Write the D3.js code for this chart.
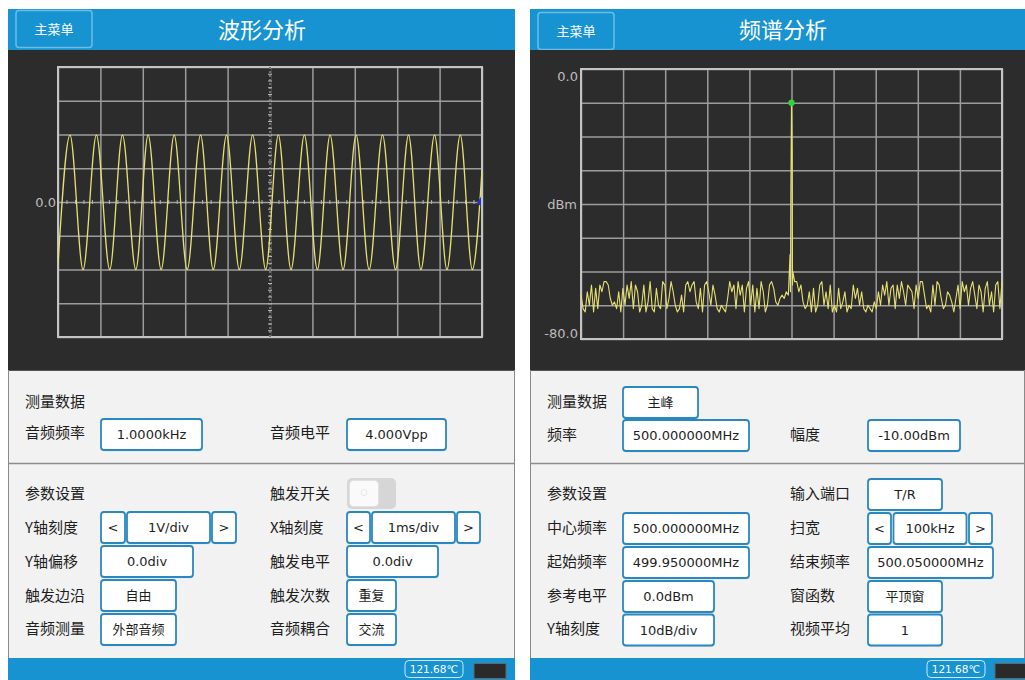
<!DOCTYPE html>
<html>
<head>
<meta charset="utf-8">
<script src="https://cdn.jsdelivr.net/npm/d3@7"></script>
<style>
  html, body { margin: 0; padding: 0; background: #ffffff; }
  svg { display: block; }
</style>
</head>
<body>
<svg id="screen" width="1025" height="680"></svg>
<script>
// ---------- data ----------
const panelTitles = ["波形分析", "频谱分析"];
const menuLabel = "主菜单";
const tempLabel = "121.68℃";

// oscilloscope trace (time in ms at 1 ms/div, level in V at 1 V/div)
const waveTimeDomain = [0, 10];
const waveVoltDomain = [-4, 4];
const waveAxisLabel = "0.0";
const wavePeakTimes   = [0.283, 0.906, 1.520, 2.126, 2.740, 3.362, 3.976, 4.591, 5.197, 5.811, 6.417, 7.031, 7.654, 8.268, 8.882, 9.488];
const waveTroughTimes = [0.591, 1.220, 1.835, 2.433, 3.047, 3.661, 4.276, 4.898, 5.496, 6.118, 6.724, 7.339, 7.961, 8.559, 9.173, 9.772];
const wavePeakLevel = 1.98;
const waveTroughLevel = -2.0;
const waveEdgeTimes = [0, 10];
const waveEdgeLevels = [-1.86, 0.95];

// spectrum trace (frequency in MHz, level in dBm)
const specFreqDomain = [499.95, 500.05];
const specDbmDomain = [-80, 0];
const specAxisLabels = ["0.0", "dBm", "-80.0"];
// noise floor, 201 bins across the span
const specLevels = [
  -67, -71, -72, -66, -70, -64, -72, -65, -71, -64,
  -66, -63, -63, -64, -68, -70, -69, -71, -66, -72,
  -65, -70, -64, -68, -63, -71, -64, -66, -72, -70,
  -64, -72, -69, -63, -71, -72, -65, -70, -71, -63,
  -64, -71, -68, -63, -66, -70, -72, -71, -67, -72,
  -64, -63, -66, -64, -63, -69, -71, -65, -72, -64,
  -63, -66, -70, -64, -67, -71, -72, -70, -71, -72,
  -68, -63, -66, -64, -71, -63, -67, -64, -72, -65,
  -63, -70, -64, -72, -65, -71, -63, -66, -72, -70,
  -64, -63, -65, -69, -70, -68, -67, -68, -66, -67,
  -66,
  -64, -63, -63, -66, -64, -69, -71, -70, -66, -72,
  -65, -72, -70, -64, -63, -70, -66, -71, -64, -72,
  -70, -72, -65, -71, -69, -66, -72, -70, -71, -64,
  -68, -65, -70, -66, -71, -72, -70, -71, -72, -69,
  -71, -66, -70, -64, -67, -63, -70, -65, -64, -71,
  -64, -68, -63, -66, -70, -64, -65, -66, -71, -64,
  -68, -63, -63, -67, -71, -70, -72, -64, -70, -63,
  -64, -68, -71, -70, -66, -67, -69, -72, -68, -64,
  -71, -63, -66, -64, -70, -65, -63, -67, -71, -64,
  -66, -72, -65, -63, -70, -66, -72, -64, -63, -71,
  -63
];
// carrier samples around the centre bin
const specCarrierFreqs  = [499.99965, 499.99983, 500.0, 500.00016, 500.00032];
const specCarrierLevels = [-55, -39, -10, -25, -60];
const specPeakFreq = 500.0;
const specPeakDbm = -10;

// form texts
const sectionLabels = ["测量数据", "参数设置"];
const waveMeasure = [["音频频率", "1.0000kHz"], ["音频电平", "4.000Vpp"]];
const waveSettingsLeft = [["Y轴刻度", "1V/div"], ["Y轴偏移", "0.0div"], ["触发边沿", "自由"], ["音频测量", "外部音频"]];
const waveSettingsRight = [["触发开关", ""], ["X轴刻度", "1ms/div"], ["触发电平", "0.0div"], ["触发次数", "重复"], ["音频耦合", "交流"]];
const specMeasureMode = "主峰";
const specMeasure = [["频率", "500.000000MHz"], ["幅度", "-10.00dBm"]];
const specSettingsLeft = [["中心频率", "500.000000MHz"], ["起始频率", "499.950000MHz"], ["参考电平", "0.0dBm"], ["Y轴刻度", "10dB/div"]];
const specSettingsRight = [["输入端口", "T/R"], ["扫宽", "100kHz"], ["结束频率", "500.050000MHz"], ["窗函数", "平顶窗"], ["视频平均", "1"]];
const stepArrows = ["<", ">"];

// ---------- styles ----------
const BLUE = "#1793d1";
const DARK = "#2c2c2c";
const LIGHT = "#f2f2f2";
const BOX = "#2a88c0";
const TRACE = "#e6df72";
const GRID = "#9c9c9c";
const CJK = "'Noto Sans CJK SC', sans-serif";
const LAT = "'DejaVu Sans', 'Noto Sans CJK SC', sans-serif";

const svg = d3.select("#screen");

// ---------- panel frame ----------
function frame(x0, x1, title, titleX, btnX, btnY) {
  const g = svg.append("g");
  g.append("rect").attr("x", x0).attr("y", 9).attr("width", x1 - x0).attr("height", 41).attr("fill", BLUE);
  g.append("rect").attr("x", btnX).attr("y", btnY).attr("width", 76).attr("height", 37).attr("rx", 3)
    .attr("fill", BLUE).attr("stroke", "#6cbde6").attr("stroke-width", 1.5);
  g.append("text").attr("x", btnX + 38).attr("y", btnY + 18.5).attr("dy", "0.36em").attr("text-anchor", "middle")
    .attr("font-family", CJK).attr("font-size", 13).attr("fill", "#ffffff").text(menuLabel);
  g.append("text").attr("x", titleX).attr("y", 30).attr("dy", "0.36em").attr("text-anchor", "middle")
    .attr("font-family", CJK).attr("font-size", 22).attr("fill", "#ffffff").text(title);
  g.append("rect").attr("x", x0).attr("y", 50).attr("width", x1 - x0).attr("height", 320).attr("fill", DARK);
  g.append("rect").attr("x", x0).attr("y", 370).attr("width", x1 - x0).attr("height", 288).attr("fill", LIGHT);
  g.append("line").attr("x1", x0).attr("x2", x1).attr("y1", 370.5).attr("y2", 370.5).attr("stroke", "#555").attr("stroke-width", 1);
  g.append("line").attr("x1", x0 + 0.5).attr("x2", x0 + 0.5).attr("y1", 370).attr("y2", 658).attr("stroke", "#8a8a8a");
  g.append("line").attr("x1", x1 - 0.5).attr("x2", x1 - 0.5).attr("y1", 370).attr("y2", 658).attr("stroke", "#8a8a8a");
  g.append("line").attr("x1", x0).attr("x2", x1).attr("y1", 463.5).attr("y2", 463.5).attr("stroke", "#8c8c8c").attr("stroke-width", 1.6);
  g.append("rect").attr("x", x0).attr("y", 658).attr("width", x1 - x0).attr("height", 22).attr("fill", BLUE);
  return g;
}

function statusBar(bx, kx) {
  svg.append("rect").attr("x", bx).attr("y", 660.5).attr("width", 58).attr("height", 17).attr("rx", 4)
    .attr("fill", "none").attr("stroke", "#cde7f5").attr("stroke-width", 1);
  svg.append("text").attr("x", bx + 29).attr("y", 669).attr("dy", "0.36em").attr("text-anchor", "middle")
    .attr("font-family", LAT).attr("font-size", 10.5).attr("fill", "#ffffff").text(tempLabel);
  svg.append("rect").attr("x", kx).attr("y", 663.5).attr("width", 32).attr("height", 15)
    .attr("fill", "#2a2a2a").attr("stroke", "#666").attr("stroke-width", 1);
}

// ---------- form helpers ----------
function label(x, y, text) {
  svg.append("text").attr("x", x).attr("y", y).attr("dy", "0.36em")
    .attr("font-family", CJK).attr("font-size", 15).attr("fill", "#1e1e1e").text(text);
}
function box(x, yc, w, text) {
  const h = 31;
  svg.append("rect").attr("x", x + 0.5).attr("y", yc - h / 2 + 1.5).attr("width", w).attr("height", h)
    .attr("rx", 3).attr("fill", "#d8d8d8").attr("opacity", 0.6);
  svg.append("rect").attr("x", x).attr("y", yc - h / 2).attr("width", w).attr("height", h)
    .attr("rx", 3).attr("fill", "#ffffff").attr("stroke", BOX).attr("stroke-width", 1.8);
  if (text !== "") {
    svg.append("text").attr("x", x + w / 2).attr("y", yc).attr("dy", "0.36em").attr("text-anchor", "middle")
      .attr("font-family", LAT).attr("font-size", 13).attr("fill", "#1e1e1e").text(text);
  }
}
function stepper(x, yc, arrowW, midW, gap, text) {
  box(x, yc, arrowW, stepArrows[0]);
  box(x + arrowW + gap, yc, midW, text);
  box(x + arrowW + gap + midW + gap, yc, arrowW, stepArrows[1]);
}
function toggle(x, yc) {
  svg.append("rect").attr("x", x).attr("y", yc - 15.5).attr("width", 49).attr("height", 31).attr("rx", 5).attr("fill", "#d6d6d6");
  svg.append("rect").attr("x", x + 2.5).attr("y", yc - 13).attr("width", 29).attr("height", 26).attr("rx", 4)
    .attr("fill", "#fafafa").attr("stroke", "#e2e2e2");
  svg.append("circle").attr("cx", x + 17).attr("cy", yc - 1).attr("r", 3).attr("fill", "none").attr("stroke", "#e8e8e8");
}

// ---------- grid helper ----------
function grid(g, xs, ys, xTicks, yTicks) {
  const [x0, x1] = xs.range();
  const [y1, y0] = ys.range();
  g.append("g").attr("transform", `translate(0,${y1})`)
    .call(d3.axisBottom(xs).tickValues(xTicks).tickSize(-(y1 - y0)).tickFormat(""))
    .call(a => a.select(".domain").remove())
    .call(a => a.selectAll("line").attr("stroke", GRID).attr("stroke-width", 1.5));
  g.append("g").attr("transform", `translate(${x0},0)`)
    .call(d3.axisLeft(ys).tickValues(yTicks).tickSize(-(x1 - x0)).tickFormat(""))
    .call(a => a.select(".domain").remove())
    .call(a => a.selectAll("line").attr("stroke", GRID).attr("stroke-width", 1.5));
  g.append("rect").attr("x", x0).attr("y", y0).attr("width", x1 - x0).attr("height", y1 - y0)
    .attr("fill", "none").attr("stroke", "#c4c4c4").attr("stroke-width", 2);
}

// ================= waveform panel =================
frame(8, 515, panelTitles[0], 262, 16, 10.5);
{
  const g = svg.append("g");
  const x = d3.scaleLinear().domain(waveTimeDomain).range([58, 482]);
  const y = d3.scaleLinear().domain(waveVoltDomain).range([337, 67]);
  grid(g, x, y, d3.range(0, 11), d3.range(-4, 5));

  // centre cross with minor ticks
  const minorX = d3.range(0, 50).map(i => i / 5).filter(v => v > 0 && v < 10);
  const minorY = d3.range(0, 40).map(i => -4 + i / 5).filter(v => v > -4 && v < 4);
  g.append("line").attr("x1", x(5)).attr("x2", x(5)).attr("y1", y(4)).attr("y2", y(-4))
    .attr("stroke", DARK).attr("stroke-width", 2);
  g.append("line").attr("x1", x(5)).attr("x2", x(5)).attr("y1", y(4)).attr("y2", y(-4))
    .attr("stroke", "#b8b8b8").attr("stroke-width", 1).attr("stroke-dasharray", "2,2");
  g.append("g").attr("transform", `translate(${x(5) + 2},0)`)
    .call(d3.axisLeft(y).tickValues(minorY).tickSize(4).tickFormat(""))
    .call(a => a.select(".domain").remove())
    .call(a => a.selectAll("line").attr("stroke", "#b8b8b8").attr("stroke-width", 1));
  g.append("g").attr("transform", `translate(0,${y(0) + 2})`)
    .call(d3.axisTop(x).tickValues(minorX).tickSize(4).tickFormat(""))
    .call(a => a.select(".domain").remove())
    .call(a => a.selectAll("line").attr("stroke", "#b8b8b8").attr("stroke-width", 1));

  g.append("text").attr("x", 56).attr("y", y(0)).attr("dy", "0.36em").attr("text-anchor", "end")
    .attr("font-family", LAT).attr("font-size", 13).attr("fill", "#bdbdbd").text(waveAxisLabel);

  // trace through the read extrema
  const pts = [
    ...waveEdgeTimes.map((t, i) => ({ t, v: waveEdgeLevels[i] })),
    ...wavePeakTimes.map(t => ({ t, v: wavePeakLevel })),
    ...waveTroughTimes.map(t => ({ t, v: waveTroughLevel }))
  ].sort((a, b) => a.t - b.t);
  svg.append("clipPath").attr("id", "waveClip").append("rect")
    .attr("x", 58).attr("y", 67).attr("width", 424).attr("height", 270);
  g.append("path").datum(pts)
    .attr("clip-path", "url(#waveClip)")
    .attr("fill", "none").attr("stroke", TRACE).attr("stroke-width", 1.3)
    .attr("d", d3.line().x(d => x(d.t)).y(d => y(d.v)).curve(d3.curveMonotoneX));

  // trigger level marker
  g.append("path")
    .attr("d", `M${x(10) - 1},${y(0) - 5} L${x(10) - 5},${y(0)} L${x(10) - 1},${y(0) + 5} Z`)
    .attr("fill", "#2331c8");
}

// waveform form
label(25, 402, sectionLabels[0]);
label(25, 433, waveMeasure[0][0]);
box(101, 434.5, 101, waveMeasure[0][1]);
label(270, 433, waveMeasure[1][0]);
box(347, 434.5, 99, waveMeasure[1][1]);

label(25, 494, sectionLabels[1]);
const waveRowsY = [528, 562, 596, 629];
waveRowsY.forEach((yc, i) => label(25, yc, waveSettingsLeft[i][0]));
stepper(101, 527.5, 24, 83, 2, waveSettingsLeft[0][1]);
box(101, 561.5, 92, waveSettingsLeft[1][1]);
box(101, 595.5, 75, waveSettingsLeft[2][1]);
box(101, 629.5, 75, waveSettingsLeft[3][1]);

label(270, 494, waveSettingsRight[0][0]);
toggle(347, 493.5);
waveRowsY.forEach((yc, i) => label(270, yc, waveSettingsRight[i + 1][0]));
stepper(347, 527.5, 23, 83, 2, waveSettingsRight[1][1]);
box(347, 561.5, 91, waveSettingsRight[2][1]);
box(347, 595.5, 49, waveSettingsRight[3][1]);
box(347, 629.5, 49, waveSettingsRight[4][1]);

statusBar(405, 474);

// ================= spectrum panel =================
frame(530, 1025, panelTitles[1], 783, 538, 12.5);
{
  const g = svg.append("g");
  const x = d3.scaleLinear().domain(specFreqDomain).range([581, 1002]);
  const y = d3.scaleLinear().domain(specDbmDomain).range([339, 69]);
  const step = (specFreqDomain[1] - specFreqDomain[0]) / 10;
  grid(g, x, y, d3.range(0, 11).map(i => specFreqDomain[0] + i * step), d3.range(-80, 1, 10));

  g.append("text").attr("x", 578).attr("y", 76).attr("dy", "0.36em").attr("text-anchor", "end")
    .attr("font-family", LAT).attr("font-size", 13).attr("fill", "#bdbdbd").text(specAxisLabels[0]);
  g.append("text").attr("x", 577).attr("y", y(-40)).attr("dy", "0.36em").attr("text-anchor", "end")
    .attr("font-family", LAT).attr("font-size", 13).attr("fill", "#bdbdbd").text(specAxisLabels[1]);
  g.append("text").attr("x", 578).attr("y", 333).attr("dy", "0.36em").attr("text-anchor", "end")
    .attr("font-family", LAT).attr("font-size", 13).attr("fill", "#bdbdbd").text(specAxisLabels[2]);

  const n = specLevels.length;
  const fStep = (specFreqDomain[1] - specFreqDomain[0]) / (n - 1);
  const noise = specLevels.map((v, i) => ({ f: specFreqDomain[0] + i * fStep, v }))
    .filter(d => Math.abs(d.f - specPeakFreq) > 1e-7);
  const carrier = specCarrierFreqs.map((f, i) => ({ f, v: specCarrierLevels[i] }));
  const pts = noise.concat(carrier).sort((a, b) => a.f - b.f);
  g.append("path").datum(pts)
    .attr("fill", "none").attr("stroke", TRACE).attr("stroke-width", 1.1).attr("stroke-linejoin", "round")
    .attr("d", d3.line().x(d => x(d.f)).y(d => y(d.v)));

  g.append("circle").attr("cx", x(specPeakFreq)).attr("cy", y(specPeakDbm)).attr("r", 3.2).attr("fill", "#2fd33a");
}

// spectrum form
label(547, 402, sectionLabels[0]);
box(623, 402.5, 75, specMeasureMode);
label(547, 435, specMeasure[0][0]);
box(623, 435.5, 126, specMeasure[0][1]);
label(790, 435, specMeasure[1][0]);
box(868, 435.5, 92, specMeasure[1][1]);

label(547, 494, sectionLabels[1]);
const specRowsY = [528, 562, 596, 629];
specRowsY.forEach((yc, i) => label(547, yc, specSettingsLeft[i][0]));
box(623, 528.5, 126, specSettingsLeft[0][1]);
box(623, 562.5, 126, specSettingsLeft[1][1]);
box(623, 596.5, 91, specSettingsLeft[2][1]);
box(623, 630, 91, specSettingsLeft[3][1]);

label(790, 494, specSettingsRight[0][0]);
box(868, 494.5, 74, specSettingsRight[0][1]);
specRowsY.forEach((yc, i) => label(790, yc, specSettingsRight[i + 1][0]));
stepper(868, 528.5, 23, 73, 2.5, specSettingsRight[1][1]);
box(868, 562.5, 125, specSettingsRight[2][1]);
box(868, 596.5, 74, specSettingsRight[3][1]);
box(868, 630, 74, specSettingsRight[4][1]);

statusBar(927, 995);
</script>
</body>
</html>
